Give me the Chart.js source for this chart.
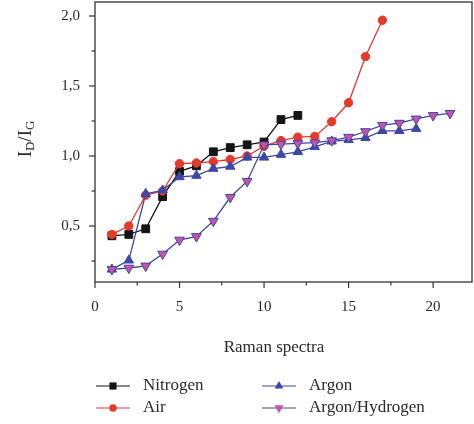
<!DOCTYPE html>
<html>
<head>
<meta charset="utf-8">
<script src="https://cdn.jsdelivr.net/npm/chart.js@4.4.1/dist/chart.umd.min.js"></script>
<style>
  html, body { margin: 0; padding: 0; background: #fff; }
  #wrap { width: 474px; height: 424px; }
</style>
</head>
<body>
<div id="wrap"><canvas id="ratioChart" width="474" height="424"></canvas></div>
<script>
// spectrum index (x) shared by all series
const spectra = [1, 2, 3, 4, 5, 6, 7, 8, 9, 10, 11, 12, 13, 14, 15, 16, 17, 18, 19, 20, 21];

// I_D/I_G values
const nitrogen = [0.43, 0.44, 0.48, 0.71, 0.89, 0.93, 1.03, 1.06, 1.08, 1.10, 1.26, 1.29];
const air = [0.44, 0.50, 0.72, 0.75, 0.945, 0.95, 0.96, 0.975, 1.00, 1.07, 1.11, 1.135, 1.14, 1.245, 1.38, 1.71, 1.97];
const argon = [0.19, 0.255, 0.73, 0.755, 0.85, 0.86, 0.91, 0.925, 0.99, 0.99, 1.01, 1.03, 1.065, 1.105, 1.115, 1.13, 1.18, 1.18, 1.195];
const argonHydrogen = [0.19, 0.20, 0.215, 0.30, 0.40, 0.425, 0.535, 0.705, 0.82, 1.08, 1.085, 1.09, 1.095, 1.11, 1.135, 1.175, 1.22, 1.235, 1.265, 1.29, 1.305];

const xTicks = [0, 2.5, 5, 7.5, 10, 12.5, 15, 17.5, 20];
const yTicks = [0.25, 0.5, 0.75, 1.0, 1.25, 1.5, 1.75, 2.0];

const serif = '"Liberation Serif", "DejaVu Serif", serif';

function points(values) {
    return values.map((v, i) => ({ x: spectra[i], y: v }));
}

// box, tick marks, axis titles and the two-column legend
const decorations = {
    id: 'decorations',
    afterDraw(chart) {
        const ctx = chart.ctx;
        const area = chart.chartArea;
        const xs = chart.scales.x;
        const ys = chart.scales.y;
        ctx.save();
        ctx.strokeStyle = '#333';
        ctx.lineWidth = 1.3;
        ctx.strokeRect(area.left, area.top, area.right - area.left, area.bottom - area.top);

        ctx.lineWidth = 1.2;
        xTicks.forEach(v => {
            const px = xs.getPixelForValue(v);
            const len = v % 5 === 0 ? 6 : 3.5;
            ctx.beginPath();
            ctx.moveTo(px, area.bottom);
            ctx.lineTo(px, area.bottom + len);
            ctx.stroke();
        });
        yTicks.forEach(v => {
            const py = ys.getPixelForValue(v);
            const len = Math.abs(v * 2 - Math.round(v * 2)) < 1e-6 ? 6 : 3.5;
            ctx.beginPath();
            ctx.moveTo(area.left, py);
            ctx.lineTo(area.left - len, py);
            ctx.stroke();
        });

        ctx.fillStyle = '#2a2a2a';
        ctx.textBaseline = 'middle';
        ctx.textAlign = 'center';
        ctx.font = '17px ' + serif;
        ctx.fillText('Raman spectra', 274, 348);

        // y title I_D/I_G with subscripts, rotated
        ctx.save();
        ctx.translate(26, 139);
        ctx.rotate(-Math.PI / 2);
        const big = '19px ' + serif;
        const small = '13px ' + serif;
        const parts = [['I', big, 0], ['D', small, 5], ['/I', big, 0], ['G', small, 5]];
        let total = 0;
        parts.forEach(p => { ctx.font = p[1]; total += ctx.measureText(p[0]).width; });
        let cx = -total / 2;
        ctx.textAlign = 'left';
        parts.forEach(p => {
            ctx.font = p[1];
            ctx.fillText(p[0], cx, p[2]);
            cx += ctx.measureText(p[0]).width;
        });
        ctx.restore();

        // legend, column-major order
        const slots = [
            { ds: 0, x: 96, y: 386 },
            { ds: 1, x: 96, y: 408 },
            { ds: 2, x: 262, y: 386 },
            { ds: 3, x: 262, y: 408 }
        ];
        ctx.textAlign = 'left';
        slots.forEach(s => {
            const ds = chart.data.datasets[s.ds];
            ctx.strokeStyle = ds.borderColor;
            ctx.lineWidth = 1.2;
            ctx.beginPath();
            ctx.moveTo(s.x, s.y);
            ctx.lineTo(s.x + 34, s.y);
            ctx.stroke();
            ctx.fillStyle = ds.pointBackgroundColor;
            ctx.strokeStyle = ds.pointBackgroundColor;
            ctx.lineWidth = 0.5;
            Chart.helpers.drawPoint(ctx, {
                pointStyle: ds.pointStyle,
                rotation: ds.pointRotation || 0,
                radius: ds.pointRadius * 0.85,
                borderWidth: 0.5
            }, s.x + 17, s.y);
            ctx.fillStyle = '#2a2a2a';
            ctx.font = '17px ' + serif;
            ctx.fillText(ds.label, s.x + 47, s.y);
        });
        ctx.restore();
    }
};

const ctx = document.getElementById('ratioChart').getContext('2d');
const ratioChart = new Chart(ctx, {
    type: 'line',
    data: {
        datasets: [
            {
                label: 'Nitrogen',
                data: points(nitrogen),
                order: 4,
                borderColor: '#141414',
                backgroundColor: '#141414',
                pointBackgroundColor: '#141414',
                pointStyle: 'rect',
                pointRadius: 5.5
            },
            {
                label: 'Air',
                data: points(air),
                order: 3,
                borderColor: '#e5392b',
                backgroundColor: '#e5392b',
                pointBackgroundColor: '#e5392b',
                pointStyle: 'circle',
                pointRadius: 4.2
            },
            {
                label: 'Argon',
                data: points(argon),
                order: 2,
                borderColor: '#3d47a8',
                backgroundColor: '#3d47a8',
                pointBackgroundColor: '#3d47a8',
                pointStyle: 'triangle',
                pointRadius: 5.4
            },
            {
                label: 'Argon/Hydrogen',
                data: points(argonHydrogen),
                order: 1,
                borderColor: '#3d47a8',
                backgroundColor: '#c852a8',
                pointBackgroundColor: '#c852a8',
                pointStyle: 'triangle',
                pointRotation: 180,
                pointRadius: 5.6
            }
        ]
    },
    options: {
        responsive: false,
        animation: false,
        layout: { autoPadding: false, padding: { left: 0, right: 2, top: 2, bottom: 0 } },
        elements: {
            line: { borderWidth: 1.3, tension: 0 },
            point: { borderWidth: 1, borderColor: '#ffffff' }
        },
        plugins: {
            legend: { display: false },
            tooltip: { enabled: false }
        },
        scales: {
            x: {
                type: 'linear',
                min: 0,
                max: 22.3,
                afterFit: s => { s.height = 142; s.paddingLeft = 0; s.paddingRight = 0; },
                afterBuildTicks: s => { s.ticks = xTicks.map(v => ({ value: v })); },
                grid: { drawOnChartArea: false, tickLength: 6, tickColor: 'rgba(0,0,0,0)' },
                border: { display: false },
                ticks: {
                    padding: 10,
                    color: '#2a2a2a',
                    font: { family: serif, size: 15 },
                    maxRotation: 0,
                    autoSkip: false,
                    callback: v => (v % 5 === 0 ? String(v) : '')
                }
            },
            y: {
                min: 0.1,
                max: 2.1,
                afterFit: s => { s.width = 95; s.paddingTop = 0; s.paddingBottom = 0; },
                afterBuildTicks: s => { s.ticks = yTicks.map(v => ({ value: v })); },
                grid: { drawOnChartArea: false, tickLength: 6, tickColor: 'rgba(0,0,0,0)' },
                border: { display: false },
                ticks: {
                    padding: 9,
                    color: '#2a2a2a',
                    font: { family: serif, size: 15 },
                    autoSkip: false,
                    callback: v => (Math.abs(v * 2 - Math.round(v * 2)) < 1e-6 ? v.toFixed(1).replace('.', ',') : '')
                }
            }
        }
    },
    plugins: [decorations]
});
</script>
</body>
</html>
